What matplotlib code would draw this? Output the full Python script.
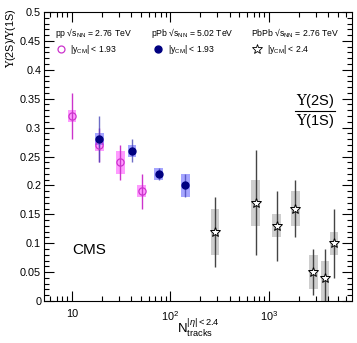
import numpy as np
import matplotlib
matplotlib.use("Agg")
import matplotlib.pyplot as plt
from matplotlib.ticker import MultipleLocator, LogLocator, NullFormatter

plt.rcParams['font.family'] = ['Liberation Sans', 'DejaVu Sans']
plt.rcParams['mathtext.fontset'] = 'custom'
plt.rcParams['mathtext.rm'] = 'Liberation Sans'
plt.rcParams['mathtext.it'] = 'Liberation Sans:italic'
plt.rcParams['mathtext.sf'] = 'Liberation Sans'
plt.rcParams['mathtext.cal'] = 'DejaVu Serif'

# pp 2.76 TeV
pp_x = [10, 19, 31, 51]
pp_y = [0.32, 0.27, 0.24, 0.19]
pp_stat_lo = [0.28, 0.24, 0.21, 0.16]
pp_stat_hi = [0.36, 0.30, 0.27, 0.22]
pp_sys = [0.01, 0.01, 0.02, 0.01]

# pPb 5.02 TeV
ppb_x = [19, 40.6, 76, 142]
ppb_y = [0.28, 0.26, 0.22, 0.20]
ppb_stat_lo = [0.24, 0.24, 0.21, 0.18]
ppb_stat_hi = [0.32, 0.28, 0.23, 0.22]
ppb_sys = [0.01, 0.01, 0.01, 0.02]

# PbPb 2.76 TeV
pbpb_x = [283, 733, 1197, 1850, 2818, 3700, 4570]
pbpb_y = [0.12, 0.17, 0.13, 0.16, 0.05, 0.04, 0.10]
pbpb_stat_lo = [0.059, 0.08, 0.07, 0.11, 0.01, 0.0, 0.04]
pbpb_stat_hi = [0.18, 0.261, 0.19, 0.21, 0.09, 0.09, 0.16]
pbpb_sys_lo = [0.08, 0.13, 0.11, 0.13, 0.02, 0.0, 0.08]
pbpb_sys_hi = [0.16, 0.21, 0.15, 0.19, 0.08, 0.07, 0.12]

fig = plt.figure(figsize=(3.57, 3.43), dpi=100)
ax = fig.add_axes([0.123, 0.1224, 0.863, 0.8426])
ax.set_xscale('log')
ax.set_xlim(5.2, 6970)
ax.set_ylim(0, 0.5)

bw = 1.105  # box half-width factor in log space

def boxes(xs, lo, hi, color, alpha):
    for x, l, h in zip(xs, lo, hi):
        ax.fill_between([x / bw, x * bw], [l, l], [h, h], color=color, alpha=alpha,
                        linewidth=0, zorder=1)

# systematics
boxes(pp_x, [y - s for y, s in zip(pp_y, pp_sys)], [y + s for y, s in zip(pp_y, pp_sys)], '#ff66ff', 0.65)
boxes(ppb_x, [y - s for y, s in zip(ppb_y, ppb_sys)], [y + s for y, s in zip(ppb_y, ppb_sys)], '#6a6aff', 0.6)
boxes(pbpb_x, pbpb_sys_lo, pbpb_sys_hi, '#b4b4b4', 0.65)

# stat lines
ax.vlines(pp_x, pp_stat_lo, pp_stat_hi, color='#cc33cc', lw=1.0, zorder=2)
ax.vlines(ppb_x, ppb_stat_lo, ppb_stat_hi, color='#4848b8', lw=1.0, alpha=0.8, zorder=2)
ax.vlines(pbpb_x, pbpb_stat_lo, pbpb_stat_hi, color='#444444', lw=1.0, zorder=2)

ax.plot(pp_x, pp_y, 'o', ms=5.2, mfc='none', mec='#cc33cc', mew=0.9, zorder=3)
ax.plot(ppb_x, ppb_y, 'o', ms=5, mfc='#000080', mec='#000080', zorder=3)
ax.plot(pbpb_x, pbpb_y, '*', ms=7, mfc='white', mec='black', mew=0.7, zorder=3)

# ticks
ax.yaxis.set_minor_locator(MultipleLocator(0.01))
ax.xaxis.set_minor_locator(LogLocator(base=10, subs=np.arange(2, 10), numticks=20))
ax.xaxis.set_minor_formatter(NullFormatter())
ax.set_xticks([10, 100, 1000])
ax.set_xticklabels(['10', r'$10^{2}$', r'$10^{3}$'])
ax.set_yticks([0, 0.05, 0.1, 0.15, 0.2, 0.25, 0.3, 0.35, 0.4, 0.45, 0.5])
ax.set_yticklabels(['0', '0.05', '0.1', '0.15', '0.2', '0.25', '0.3', '0.35', '0.4', '0.45', '0.5'])
ax.tick_params(which='both', direction='in', top=True, right=True, labelsize=7.8, width=0.8)
ax.tick_params(which='major', length=7)
ax.tick_params(which='minor', length=3.5)
ax.tick_params(axis='x', pad=6)
ax.tick_params(axis='y', pad=2)
for s in ax.spines.values():
    s.set_linewidth(0.8)

# axis titles
fig.text(11/357, 1 - 8/343, r'$\mathcal{\Upsilon}\mathrm{(2S)/}\mathcal{\Upsilon}\mathrm{(1S)}$',
         fontsize=7.8, rotation=90, ha='center', va='top')
fig.text(198/357, 1 - 328/343, r'N$_{\mathrm{tracks}}^{|\eta|<2.4}$', fontsize=9.5,
         ha='center', va='center')

# legend texts
fs = 6.2
fig.text(55/357, 1 - 33/343, r'pp √s$_{\mathrm{NN}}$ = 2.76 TeV', fontsize=fs, va='center')
fig.text(151/357, 1 - 33/343, r'pPb √s$_{\mathrm{NN}}$ = 5.02 TeV', fontsize=fs, va='center')
fig.text(251/357, 1 - 33/343, r'PbPb √s$_{\mathrm{NN}}$ = 2.76 TeV', fontsize=fs, va='center')
fig.text(70/357, 1 - 50/343, r'|y$_{\mathrm{CM}}$| < 1.93', fontsize=fs, va='center')
fig.text(168/357, 1 - 50/343, r'|y$_{\mathrm{CM}}$| < 1.93', fontsize=fs, va='center')
fig.text(267/357, 1 - 50/343, r'|y$_{\mathrm{CM}}$| < 2.4', fontsize=fs, va='center')
fig.lines.append(plt.Line2D([61/357], [1 - 49/343], marker='o', ms=5, mfc='none', mec='#cc33cc',
                            mew=0.9, transform=fig.transFigure))
fig.lines.append(plt.Line2D([158/357], [1 - 49/343], marker='o', ms=5, mfc='#000080', mec='#000080',
                            transform=fig.transFigure))
fig.lines.append(plt.Line2D([257/357], [1 - 49/343], marker='*', ms=7, mfc='white', mec='black',
                            mew=0.6, transform=fig.transFigure))

# fraction
fig.text(315/357, 1 - 101/343, r'$\mathcal{\Upsilon}\mathrm{(2S)}$', fontsize=10.5, ha='center', va='center')
fig.text(315/357, 1 - 121/343, r'$\mathcal{\Upsilon}\mathrm{(1S)}$', fontsize=10.5, ha='center', va='center')
fig.lines.append(plt.Line2D([295/357, 335/357], [1 - 111/343, 1 - 111/343], color='black', lw=0.8,
                            transform=fig.transFigure))

fig.text(72/357, 1 - 250/343, 'CMS', fontsize=11, va='center')

fig.savefig('out.png', dpi=100)
